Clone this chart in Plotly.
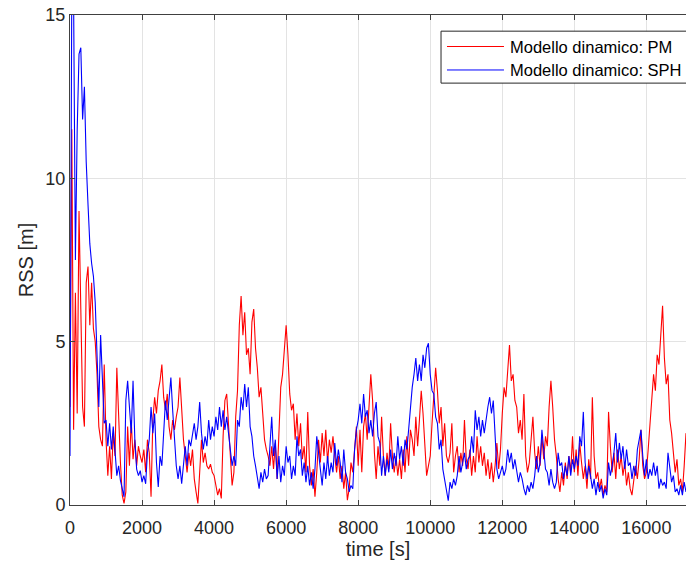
import plotly.graph_objects as go

# ---------------- data ----------------
T_STEP = 50
SERIES_NAMES = ["Modello dinamico: PM", "Modello dinamico: SPH"]

rss_pm = [
    # 0 - 950
    3.0, 11.5, 2.3, 6.5, 2.8, 9.0, 6.0, 3.0, 2.4, 6.8, 7.3, 5.5, 6.8, 5.4, 5.0, 4.0, 2.4, 2.0, 1.8, 4.3,
    # 1000 - 1950
    2.0, 0.9, 1.8, 0.8, 2.2, 1.5, 4.2, 2.5, 1.3, 0.3, 0.05, 0.4, 2.4, 1.2, 2.6, 1.4, 2.0, 1.2, 1.8, 1.5,
    # 2000 - 2950
    1.3, 1.7, 1.0, 2.0, 1.6, 0.25, 2.6, 3.3, 2.8, 3.5, 3.8, 4.3, 3.3, 2.9, 3.4, 2.4, 2.0, 2.6, 2.3, 2.7,
    # 3000 - 3950
    3.0, 3.9, 2.8, 2.0, 1.5, 1.0, 1.6, 1.2, 1.7, 0.8, 0.4, 0.05, 1.0, 2.0, 1.3, 1.6, 1.2, 1.1, 1.25, 1.0,
    # 4000 - 4950
    0.9, 0.6, 0.3, 0.5, 0.2, 2.1, 3.2, 3.4, 2.4, 1.5, 0.6, 1.0, 2.7, 3.5, 5.5, 6.4, 5.2, 5.9, 4.6, 4.8,
    # 5000 - 5950
    4.0, 5.6, 6.0, 4.8, 4.2, 3.3, 3.6, 2.8, 2.0, 1.7, 1.5, 1.2, 1.8, 1.1, 1.9, 0.8, 2.2, 3.6, 4.0, 4.8,
    # 6000 - 6950
    5.5, 4.6, 3.4, 2.9, 3.1, 2.0, 2.8, 1.8, 2.5, 1.4, 1.8, 1.0, 2.85, 1.2, 0.6, 1.1, 0.25, 1.0, 2.0, 1.3,
    # 7000 - 7950
    2.2, 1.5, 2.3, 1.3, 2.0, 1.6, 2.1, 1.5, 1.0, 1.5, 0.8, 1.2, 0.5, 1.0, 0.15, 0.5, 1.3, 1.0, 1.8, 2.4,
    # 8000 - 8950
    1.2, 2.3, 1.0, 2.4, 2.8, 2.0, 3.0, 4.0, 3.2, 1.6, 0.8, 1.8, 1.2, 2.7, 1.5, 0.9, 1.6, 1.1, 2.5, 1.5,
    # 9000 - 9950
    1.0, 1.5, 0.9, 1.4, 0.8, 1.7, 1.0, 2.1, 1.2, 2.3, 2.0, 1.5, 2.7, 1.8, 2.6, 3.5, 2.8, 1.6, 0.9, 1.2,
    # 10000 - 10950
    1.5, 2.5, 3.4, 4.2, 3.5, 2.5, 3.0, 1.8, 2.5, 1.5, 1.3, 1.6, 2.5, 1.0, 1.5, 1.8, 1.0, 1.6, 1.2, 2.6,
    # 11000 - 11950
    1.4, 1.1, 1.7, 0.9, 1.5, 1.0, 2.1, 1.3, 1.8, 1.2, 1.6, 0.9, 1.4, 0.8, 1.3, 0.7, 1.2, 1.9, 1.1, 1.7,
    # 12000 - 12950
    2.8, 3.6, 3.3, 4.3, 4.9, 3.8, 4.0, 3.2, 3.0, 2.2, 2.6, 2.0, 3.4, 1.5, 1.0, 1.3, 2.0, 2.7, 1.6, 1.1,
    # 13000 - 13950
    1.8, 1.2, 2.1, 1.4, 2.1, 1.8, 3.0, 3.8, 3.0, 2.0, 1.5, 0.8, 0.4, 1.0, 0.6, 1.3, 0.8, 1.5, 1.0, 2.1,
    # 14000 - 14950
    1.0, 1.7, 0.9, 1.9, 1.3, 0.8, 1.2, 0.5, 1.4, 0.8, 3.3, 1.5, 0.8, 1.0, 0.5, 0.8, 0.3, 0.6, 0.4, 2.85,
    # 15000 - 15950
    1.8, 1.0, 1.6, 0.8, 1.7, 1.1, 1.5, 0.9, 1.3, 0.6, 1.0, 0.5, 0.3, 0.7, 1.2, 0.8, 1.4, 2.3, 1.2, 0.8,
    # 16000 - 16950
    1.0, 1.7, 2.4, 3.3, 4.0, 3.5, 4.6, 4.3, 5.2, 6.1, 4.5, 3.7, 4.0, 2.6, 2.2, 1.6, 1.0, 1.4, 0.6, 0.8,
    # 17000 - 17100
    0.4, 1.2, 2.2,
]

rss_sph = [
    # 0 - 950
    1.5, 16.0, 15.5, 7.5, 11.5, 13.8, 14.0, 11.8, 12.8, 10.5, 9.2, 8.0, 7.4, 7.0, 6.2, 4.8, 3.0, 5.2, 3.8, 2.5,
    # 1000 - 1950
    2.6, 1.8, 2.5, 1.7, 2.4, 1.6, 0.9, 1.2, 0.75, 0.5, 0.25, 3.2, 3.8, 3.0, 2.2, 3.8, 2.0, 1.1, 0.9, 1.05,
    # 2000 - 2950
    0.7, 0.9, 0.65, 1.6, 2.0, 3.0, 2.2, 2.8, 1.3, 0.55, 1.5, 1.2, 2.4, 3.2, 2.6, 3.4, 3.9, 2.9, 2.0, 1.2,
    # 3000 - 3950
    0.8, 1.2, 0.65, 1.3, 1.8, 1.2, 2.0, 1.8, 2.1, 2.5, 2.0, 2.4, 3.15, 2.2, 1.7, 2.1, 1.8, 2.6, 2.0, 2.4,
    # 4000 - 4950
    2.1, 2.7, 2.3, 3.0, 2.4, 2.9, 2.3, 2.7, 2.2, 1.7, 1.2, 1.5, 1.2, 2.6, 2.4, 3.3, 2.9, 3.7, 3.0, 3.6,
    # 5000 - 5950
    2.4, 2.1, 1.5, 1.2, 0.9, 0.5, 1.0, 0.7, 1.1, 0.8, 0.9, 1.8, 2.7, 1.5, 2.0, 0.8, 1.5, 0.7, 1.2, 0.9,
    # 6000 - 6950
    1.8, 1.3, 1.5, 0.8, 1.2, 0.9, 2.1, 1.5, 1.7, 0.9, 1.3, 0.7, 1.2, 0.6, 1.0, 0.5, 1.1, 2.1, 1.5, 1.1,
    # 7000 - 7950
    0.6, 1.3, 0.8, 1.5, 0.9, 1.3, 1.0, 1.9, 1.2, 1.7, 1.3, 0.7, 1.7, 1.0, 0.8, 0.4, 0.6, 0.5, 1.7, 2.3,
    # 8000 - 8950
    2.6, 3.1, 2.5, 3.4, 2.7, 2.9, 2.2, 2.6, 2.1, 2.8, 3.15, 2.1, 1.9, 0.9, 1.5, 0.9, 1.4, 1.0, 1.7, 1.1,
    # 9000 - 9950
    1.6, 1.2, 2.1, 1.4, 1.8, 1.2, 2.0, 1.7, 2.3, 3.1, 3.6, 4.0, 4.5, 3.8, 4.3, 3.8, 4.6, 4.2, 4.8, 4.95,
    # 10000 - 10950
    4.0, 3.5, 3.4, 2.7, 2.5, 1.7, 2.0, 1.1, 0.8, 0.5, 0.13, 0.7, 0.5, 0.8, 0.6, 0.9, 1.5, 1.0, 1.3, 1.6,
    # 11000 - 11950
    1.1, 1.4, 1.5, 2.1, 1.6, 2.9, 2.3, 2.7, 2.1, 2.6, 2.2, 2.7, 3.0, 3.3, 2.8, 3.2, 2.1, 1.1, 0.8, 1.0,
    # 12000 - 12950
    1.2, 0.9, 1.1, 1.7, 1.3, 1.6, 1.1, 1.4, 1.1, 0.7, 1.0, 0.8, 0.5, 0.3, 0.6, 0.4, 0.7, 0.5, 0.9, 1.5,
    # 13000 - 13950
    1.0, 1.3, 2.3, 1.7, 1.1, 1.0, 0.6, 1.1, 0.7, 0.5, 0.7, 1.6, 1.2, 1.3, 0.8, 1.2, 0.9, 1.5, 0.9, 1.4,
    # 14000 - 14950
    1.1, 1.5, 1.2, 2.1, 1.8, 2.85, 1.3, 0.8, 1.2, 0.9, 0.5, 0.8, 0.3, 0.7, 0.4, 0.6, 0.2, 0.5, 0.3, 1.3,
    # 15000 - 15950
    0.9, 1.2, 1.6, 2.2, 1.3, 1.9, 1.4, 1.8, 1.1, 1.7, 1.2, 1.3, 0.8, 1.2, 0.9, 1.7, 2.0, 2.3, 1.5, 0.9,
    # 16000 - 16950
    1.4, 0.8, 1.1, 0.9, 1.3, 0.9, 1.2, 0.5, 0.8, 0.6, 0.7, 0.5, 1.6, 1.1, 0.7, 0.9, 0.4, 0.5, 0.3, 0.6,
    # 17000 - 17100
    0.3, 0.7, 0.4,
]

time_s = [i * T_STEP for i in range(len(rss_pm))]

X_TICKS = [0, 2000, 4000, 6000, 8000, 10000, 12000, 14000, 16000]
Y_TICKS = [0, 5, 10, 15]
X_RANGE = [0, 17100]
Y_RANGE = [0, 15]
COLORS = ["#ff0000", "#0000ff"]

# ---------------- figure ----------------
FONT = "Liberation Sans, Arial, Helvetica, sans-serif"
AX = "#262626"

fig = go.Figure()
fig.add_trace(go.Scatter(x=time_s, y=rss_pm, mode="lines", name=SERIES_NAMES[0],
                         line=dict(color=COLORS[0], width=1.1), showlegend=False))
fig.add_trace(go.Scatter(x=time_s, y=rss_sph, mode="lines", name=SERIES_NAMES[1],
                         line=dict(color=COLORS[1], width=1.1), showlegend=False))

fig.update_layout(
    width=686, height=570,
    margin=dict(l=70, r=0, t=15, b=65, pad=0),
    paper_bgcolor="white", plot_bgcolor="white",
    font=dict(family=FONT, size=18, color=AX),
)
fig.update_xaxes(
    range=X_RANGE, tickvals=X_TICKS, ticktext=[str(v) for v in X_TICKS],
    showgrid=True, gridcolor="#e3e3e3", gridwidth=1, zeroline=False,
    showline=True, linecolor="#404040", linewidth=1, mirror="ticks",
    ticks="inside", ticklen=5, tickcolor="#404040",
    ticklabelstandoff=6,
    title=dict(text="time [s]", font=dict(size=20), standoff=3),
    tickfont=dict(size=18),
)
fig.update_yaxes(
    range=Y_RANGE, tickvals=Y_TICKS, ticktext=[str(v) for v in Y_TICKS],
    showgrid=True, gridcolor="#e3e3e3", gridwidth=1, zeroline=False,
    showline=True, linecolor="#404040", linewidth=1, mirror=False,
    ticks="inside", ticklen=5, tickcolor="#404040",
    title=dict(text="RSS [m]", font=dict(size=20), standoff=6),
    tickfont=dict(size=18),
)

# legend box (MATLAB-style, cut by the figure's right edge like the reference)
LEG_X0, LEG_X1, LEG_Y0, LEG_Y1 = 0.6023, 1.05, 0.861, 0.967
fig.add_shape(type="rect", xref="paper", yref="paper",
              x0=LEG_X0, x1=LEG_X1, y0=LEG_Y0, y1=LEG_Y1,
              line=dict(color="#262626", width=1), fillcolor="white", layer="above")
row_y = [0.9357, 0.8878]
for name, color, yy in zip(SERIES_NAMES, COLORS, row_y):
    fig.add_shape(type="line", xref="paper", yref="paper",
                  x0=0.6120, x1=0.7045, y0=yy, y1=yy,
                  line=dict(color=color, width=1), layer="above")
    fig.add_annotation(xref="paper", yref="paper", x=0.7110, y=yy,
                       xanchor="left", yanchor="middle", showarrow=False,
                       text=name, font=dict(family=FONT, size=16.5, color="#000000"))

fig.write_html("out.html")
